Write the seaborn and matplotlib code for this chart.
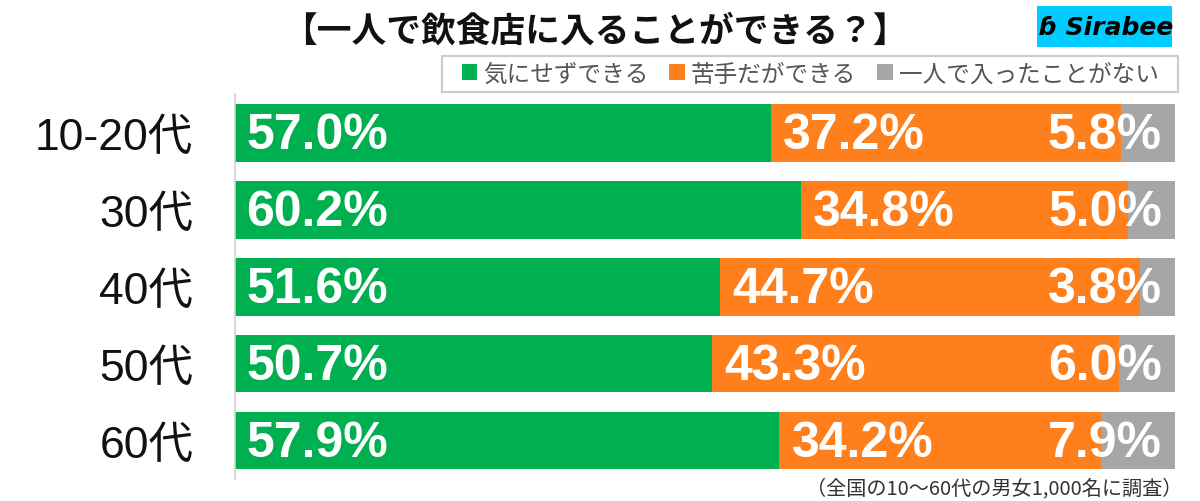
import matplotlib
matplotlib.use("Agg")
import matplotlib.pyplot as plt
from matplotlib.patches import Patch, Rectangle
import seaborn as sns
import pandas as pd

categories = ["10-20代", "30代", "40代", "50代", "60代"]
series_names = ["気にせずできる", "苦手だができる", "一人で入ったことがない"]
green_vals = [57.0, 60.2, 51.6, 50.7, 57.9]
orange_vals = [37.2, 34.8, 44.7, 43.3, 34.2]
gray_vals = [5.8, 5.0, 3.8, 6.0, 7.9]
title_text = "【一人で飲食店に入ることができる？】"
note_text = "（全国の10〜60代の男女1,000名に調査）"

colors = ["#00B050", "#FF7F1C", "#A6A6A6"]

sns.set_theme(style="white")
plt.rcParams["font.family"] = ["Noto Sans CJK JP", "DejaVu Sans"]

df = pd.DataFrame({
    "cat": categories,
    "g": green_vals,
    "o": orange_vals,
    "r": gray_vals,
})
df["cum_o"] = df["g"] + df["o"]
df["cum_r"] = df["cum_o"] + df["r"]

fig = plt.figure(figsize=(12, 5.02), dpi=100)
ax = fig.add_axes([0.1958, 0.0438, 0.7834, 0.766])

for col, c in [("cum_r", colors[2]), ("cum_o", colors[1]), ("g", colors[0])]:
    sns.barplot(data=df, x=col, y="cat", orient="h", color=c, width=0.75,
                saturation=1, ax=ax, linewidth=0)

ax.set_xlim(0, 100)
ax.set_ylim(4.5, -0.5)
ax.set_xlabel("")
ax.set_ylabel("")
ax.set_xticks([])
for s in ["top", "right", "bottom"]:
    ax.spines[s].set_visible(False)
ax.spines["left"].set_color("#D0D0D0")
ax.spines["left"].set_linewidth(1.2)
ax.tick_params(axis="y", length=0, pad=30)
for lab in ax.get_yticklabels():
    lab.set_fontsize(32)
    lab.set_family(["Liberation Sans", "Noto Sans CJK JP"])
    lab.set_color("#111111")

lab_font = dict(family="Liberation Sans", fontweight="bold", fontsize=36,
                color="white", va="center")
for i in range(len(categories)):
    g, o, r = green_vals[i], orange_vals[i], gray_vals[i]
    ax.text(1.2, i + 0.03, f"{g:.1f}%", ha="left", **lab_font)
    ax.text(g + 1.3, i + 0.03, f"{o:.1f}%", ha="left", **lab_font)
    ax.text(98.6, i + 0.03, f"{r:.1f}%", ha="right", **lab_font)

# Title
fig.text(0.496, 1 - 31 / 502, title_text, ha="center", va="center", fontsize=25,
         fontweight="bold", color="#111111")

# Logo
fig.patches.append(Rectangle((1037 / 1200, 1 - 48 / 502), 135 / 1200, 41 / 502,
                             transform=fig.transFigure, facecolor="#00CCFF",
                             edgecolor="none"))
fig.text(1106 / 1200, 1 - 28 / 502, "ɓ Sirabee", ha="center", va="center",
         fontsize=18, fontweight="bold", style="italic", color="black",
         family=["DejaVu Sans"])

# Legend frame
fig.patches.append(Rectangle((442 / 1200, 1 - 93 / 502), 736 / 1200, 36 / 502,
                             transform=fig.transFigure, facecolor="white",
                             edgecolor="#CCCCCC", linewidth=1.5))
handles = [Patch(facecolor=c, edgecolor="none") for c in colors]
leg = fig.legend(handles, series_names, ncol=3, loc="center",
                 bbox_to_anchor=(810 / 1200, 1 - 75 / 502), frameon=False,
                 fontsize=17, handlelength=0.65, handleheight=0.65,
                 handletextpad=0.25, columnspacing=0.9, borderpad=0,
                 borderaxespad=0)
for t in leg.get_texts():
    t.set_color("#555555")

# Footnote
fig.text(1182 / 1200, 1 - 489 / 502, note_text, ha="right", va="center",
         fontsize=14.5, color="#333333")

fig.savefig("out.png", dpi=100)
